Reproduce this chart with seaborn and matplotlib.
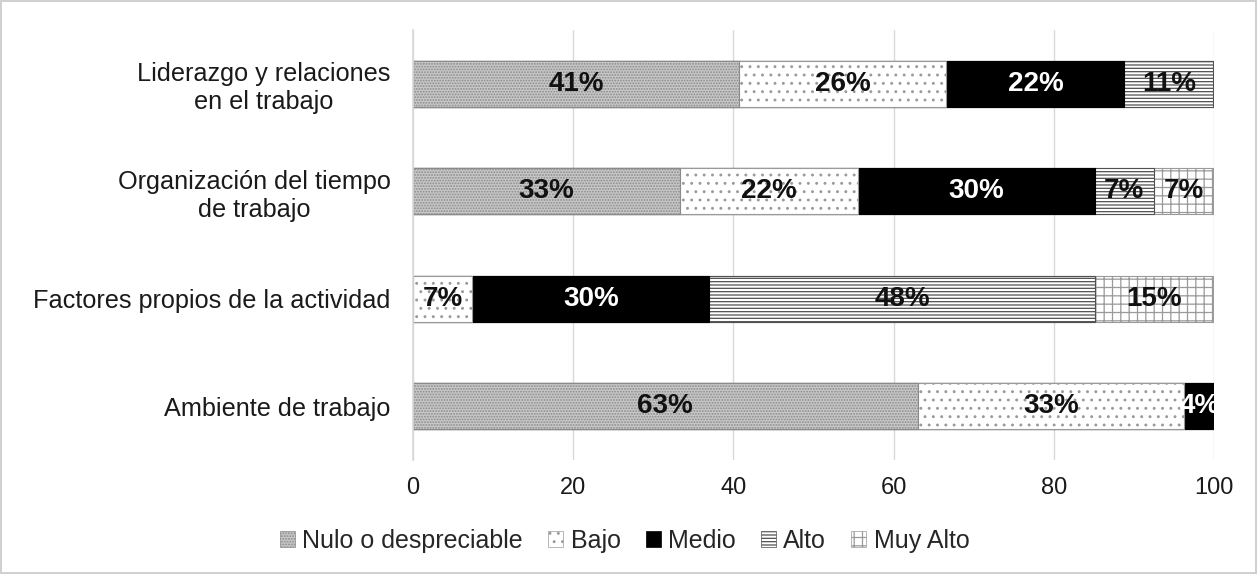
import numpy as np
import matplotlib
matplotlib.use("Agg")
import matplotlib.pyplot as plt
from matplotlib.patches import Patch
import seaborn as sns

categories = ["Liderazgo y relaciones\nen el trabajo",
              "Organización del tiempo\nde trabajo",
              "Factores propios de la actividad",
              "Ambiente de trabajo"]
levels = ["Nulo o despreciable", "Bajo", "Medio", "Alto", "Muy Alto"]

# share of each level per factor (%), n = 27
nulo = [40.7, 33.3, 0.0, 63.0]
bajo = [25.9, 22.2, 7.4, 33.3]
medio = [22.2, 29.6, 29.6, 3.7]
alto = [11.1, 7.4, 48.1, 0.0]
muy_alto = [0.0, 7.4, 14.8, 0.0]

series = [nulo, bajo, medio, alto, muy_alto]
styles = [
    dict(color="#c8c8c8", edgecolor="#8a8a8a", hatch="......"),
    dict(color="white", edgecolor="#9a9a9a", hatch=".."),
    dict(color="black", edgecolor="black", hatch=None),
    dict(color="white", edgecolor="#505050", hatch="-----"),
    dict(color="white", edgecolor="#9a9a9a", hatch="++"),
]

sns.set_theme(style="whitegrid")
plt.rcParams["font.family"] = ["Liberation Sans", "DejaVu Sans"]
plt.rcParams["hatch.linewidth"] = 0.9

fig = plt.figure(figsize=(12.57, 5.74), dpi=100)
ax = fig.add_axes([0.3286, 0.1986, 0.6372, 0.749])

vals = np.array(series)
cum = vals.cumsum(axis=0)

# draw cumulative totals from the last level down, so each layer covers the next
for i in range(len(series) - 1, -1, -1):
    st = styles[i]
    sns.barplot(x=cum[i], y=categories, orient="h", ax=ax, width=0.43,
                color=st["color"], edgecolor=st["edgecolor"], hatch=st["hatch"],
                linewidth=0.8, saturation=1)

for i, s in enumerate(series):
    for j, v in enumerate(s):
        if v <= 0:
            continue
        x = cum[i][j] - v / 2
        txt_color = "white" if i == 2 else "#111111"
        ax.text(x, j, f"{v:.0f}%", ha="center", va="center", fontsize=20,
                fontweight="bold", color=txt_color)

ax.set_xlim(0, 100)
ax.set_xticks([0, 20, 40, 60, 80, 100])
ax.set_xlabel("")
ax.set_ylabel("")
ax.grid(True, axis="x", color="#d9d9d9", linewidth=1)
ax.grid(False, axis="y")
ax.set_axisbelow(True)
for sp in ["top", "right", "bottom"]:
    ax.spines[sp].set_visible(False)
ax.spines["left"].set_color("#d9d9d9")
ax.tick_params(axis="x", labelsize=17, colors="#1a1a1a", length=0, pad=12)
ax.tick_params(axis="y", labelsize=18.2, colors="#1a1a1a", length=0, pad=16)
for lab in ax.get_yticklabels():
    lab.set_multialignment("center")

handles = [Patch(facecolor=st["color"], edgecolor=st["edgecolor"],
                 hatch=st["hatch"], linewidth=0.5) for st in styles]
fig.legend(handles, levels, loc="center", bbox_to_anchor=(0.497, 0.058), ncol=5,
           frameon=False, fontsize=18, handlelength=0.6, handleheight=0.6,
           handletextpad=0.3, columnspacing=1.0)

fig.patch.set_edgecolor("#d0d0d0")
fig.patch.set_linewidth(1.5)
fig.savefig("out.png", dpi=100)
